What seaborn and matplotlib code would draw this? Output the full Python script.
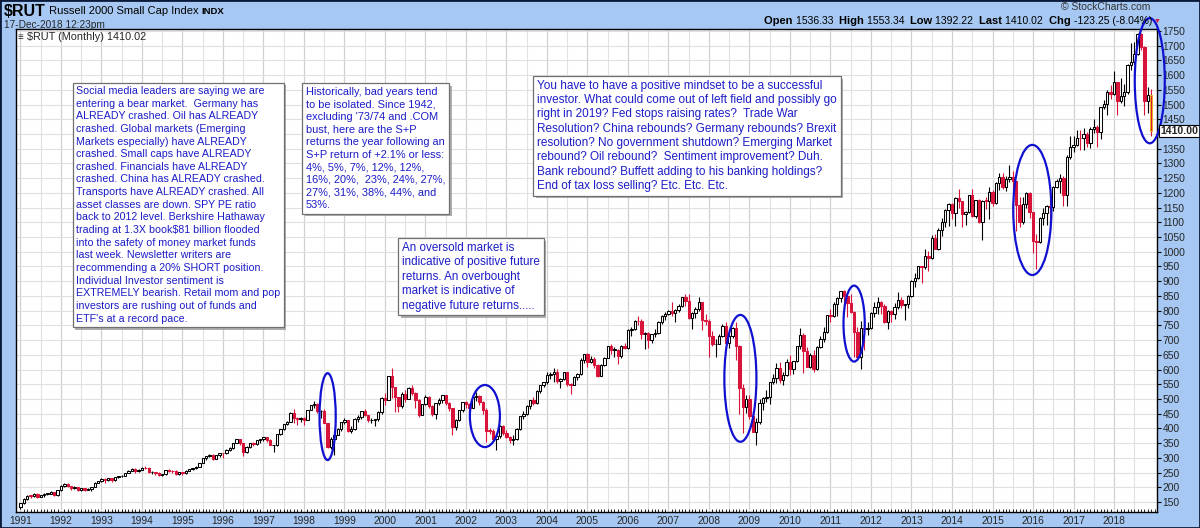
import numpy as np
import pandas as pd
import matplotlib.pyplot as plt
import matplotlib.patheffects as pe
import matplotlib.transforms as mtransforms
from matplotlib.patches import Ellipse, Rectangle
import seaborn as sns

# monthly Russell 2000 bars, Jan 1991 .. Dec 2018 (open = previous close)
first_open = 132.2
years = list(range(1991, 2019))
close = [
    145.2, 160.0, 171.0, 170.6, 177.9, 167.6, 173.0, 177.6, 178.7, 183.4, 174.9, 189.9,
    205.2, 211.3, 203.7, 197.0, 199.8, 190.2, 196.7, 190.6, 195.7, 200.6, 216.0, 221.0,
    229.2, 223.7, 230.4, 224.1, 233.7, 237.1, 239.5, 249.6, 256.6, 263.3, 254.9, 258.6,
    266.5, 265.5, 251.1, 252.6, 249.3, 240.3, 244.1, 257.3, 256.1, 255.0, 244.7, 250.4,
    246.9, 256.1, 260.8, 266.2, 270.5, 283.6, 299.7, 305.8, 311.1, 297.1, 309.1, 316.0,
    315.4, 325.5, 332.5, 350.2, 364.3, 349.4, 318.9, 337.4, 350.6, 345.6, 359.5, 362.6,
    369.9, 360.1, 343.0, 343.0, 381.0, 396.4, 414.5, 423.4, 453.8, 434.0, 431.2, 437.0,
    430.1, 462.1, 480.7, 483.1, 457.4, 457.4, 419.8, 338.0, 363.6, 379.2, 399.0, 422.0,
    427.2, 392.3, 397.6, 433.2, 439.6, 457.7, 445.1, 428.6, 428.7, 430.4, 456.3, 504.8,
    496.2, 577.7, 539.1, 506.3, 476.2, 517.2, 500.6, 538.6, 521.4, 497.7, 445.9, 483.5,
    508.3, 475.0, 450.5, 485.8, 497.6, 512.6, 484.8, 468.6, 404.9, 428.2, 461.8, 488.5,
    483.1, 470.2, 506.5, 510.7, 488.1, 463.0, 392.4, 391.4, 362.3, 373.9, 407.4, 383.1,
    372.2, 361.0, 364.5, 398.7, 441.0, 448.4, 476.0, 497.4, 487.7, 528.2, 546.5, 556.9,
    580.8, 585.6, 590.3, 559.8, 568.3, 591.5, 551.3, 548.9, 572.9, 583.8, 633.8, 651.6,
    624.0, 634.1, 615.1, 579.4, 616.7, 639.7, 679.8, 666.5, 667.8, 646.6, 679.8, 673.2,
    733.2, 736.9, 765.1, 764.5, 721.0, 724.7, 700.6, 720.5, 725.6, 763.0, 782.0, 787.7,
    800.3, 793.3, 800.7, 814.6, 847.2, 833.7, 776.1, 792.9, 805.5, 828.0, 767.8, 766.0,
    713.3, 686.2, 688.0, 714.8, 748.3, 689.7, 713.6, 739.5, 679.6, 537.5, 473.1, 499.5,
    443.5, 389.0, 422.8, 487.6, 501.6, 508.3, 556.7, 572.1, 604.3, 562.8, 579.7, 625.4,
    602.0, 628.6, 678.6, 716.6, 662.6, 609.5, 650.9, 602.1, 676.1, 703.4, 727.0, 783.7,
    781.3, 823.5, 843.6, 865.3, 848.3, 827.4, 797.0, 726.8, 644.2, 741.1, 737.4, 740.9,
    792.8, 810.9, 830.3, 816.9, 761.8, 798.5, 786.9, 812.1, 837.5, 818.7, 821.9, 849.4,
    902.1, 911.1, 951.5, 947.5, 984.1, 977.5, 1045.3, 1010.9, 1073.8, 1100.2, 1142.9, 1163.6,
    1130.9, 1183.0, 1173.0, 1126.9, 1134.5, 1193.0, 1120.1, 1174.4, 1101.7, 1173.5, 1173.2, 1204.7,
    1165.4, 1233.4, 1252.8, 1220.1, 1246.5, 1253.9, 1238.7, 1159.5, 1100.7, 1161.9, 1198.1, 1135.9,
    1035.4, 1033.9, 1114.0, 1130.8, 1154.8, 1151.9, 1219.9, 1239.9, 1251.7, 1191.4, 1322.3, 1357.1,
    1361.8, 1386.7, 1385.9, 1400.4, 1370.2, 1415.4, 1425.1, 1405.3, 1490.9, 1502.8, 1544.1, 1535.5,
    1575.0, 1512.5, 1529.4, 1541.9, 1633.6, 1643.1, 1670.8, 1740.8, 1696.6, 1511.8, 1533.3, 1410.0,
]
high = [
    147, 162, 175, 175, 180, 180, 174, 181, 182, 186, 185, 190,
    207, 215, 214, 205, 203, 201, 198, 197, 199, 202, 217, 222,
    231, 231, 232, 231, 235, 239, 241, 250, 258, 265, 264, 261,
    268, 271, 268, 255, 253, 251, 245, 258, 261, 259, 257, 251,
    253, 257, 262, 267, 272, 284, 300, 306, 314, 312, 310, 318,
    317, 329, 336, 352, 365, 365, 352, 339, 351, 353, 360, 365,
    372, 371, 364, 343.5, 381.5, 397, 415, 424, 454, 466, 439, 439,
    440, 463, 481, 491.4, 486, 461, 465, 420, 372, 380, 403, 423,
    436, 428, 408, 437, 447, 458, 466, 446, 437, 431, 460, 505,
    520, 578, 606, 541, 507, 522, 529, 541, 546, 525, 500, 484,
    512, 510, 480, 487, 502, 514, 514, 490, 470, 433, 463, 491,
    493, 485, 507, 522, 512, 493, 468, 400, 398, 385, 411, 410,
    396, 374, 379, 401, 443, 460, 481, 498, 508, 529, 548, 558,
    590, 593, 604, 602, 570, 593, 592, 553, 577, 588, 638, 654,
    655, 646, 644, 618, 618, 641, 681, 688, 678, 670, 682, 690,
    736, 745, 767, 781, 771, 727, 728, 722, 737, 765, 786, 797,
    802, 829, 805, 824, 848, 855, 856, 797, 813, 845, 830, 790,
    771, 730, 704, 719, 755, 763, 725, 744, 760, 682, 550, 515,
    514, 455, 436, 501, 506, 531, 558, 584, 622, 626, 592, 635,
    651, 630, 680, 741, 725, 676, 656, 665, 679, 713, 745, 785,
    807, 831, 845, 867, 869, 852, 858, 800, 745, 766, 751, 763,
    795, 831, 846, 832, 823, 801, 803, 825, 864, 848, 824, 853,
    904, 927, 953, 953, 1008, 1001, 1056, 1061, 1081, 1116, 1145, 1166,
    1166, 1186, 1212, 1174, 1137, 1194, 1213, 1175, 1179, 1175, 1185, 1221,
    1211, 1236, 1267, 1266, 1258, 1296, 1274, 1240, 1185, 1185, 1203, 1204,
    1136, 1061, 1117, 1149, 1160, 1188, 1223, 1248, 1264, 1257, 1327, 1392,
    1392, 1414, 1413, 1422, 1407, 1425, 1451, 1430, 1493, 1515, 1548, 1566,
    1615, 1577, 1590, 1570, 1637, 1708, 1712, 1742, 1742.5, 1698, 1560, 1553.34,
]
low = [
    125.3, 143, 158, 165, 168, 164, 167, 168, 174, 176, 171, 170,
    188, 201, 200, 190, 193, 186, 187, 187, 190, 188, 200, 213,
    219, 213, 221, 217, 222, 230, 234, 238, 248, 255, 249, 253,
    257, 262, 248, 244, 243, 237, 238, 243, 253, 250, 242, 243,
    243, 245, 254, 259, 263, 270, 283, 294, 302, 292, 296, 303,
    300, 313, 322, 330, 350, 343, 307, 318, 334, 340, 343, 350,
    356, 355, 342, 319, 341, 376, 393, 410, 423, 419, 413, 421,
    410, 429, 461, 470, 452, 436, 418, 335, 330, 310, 376, 390,
    415, 389, 383, 395, 421, 433, 442, 421, 417, 408, 426, 449,
    480, 495, 503, 454, 456, 470, 491, 499, 513, 470, 440, 444,
    478, 468, 442, 431, 479, 486, 478, 460, 378.9, 396, 425, 456,
    469, 456, 469, 494, 479, 448, 355, 380, 357, 327, 368, 376,
    368, 352, 345, 360, 395, 433, 445, 467, 481, 484, 519, 542,
    550, 568, 556, 554, 536, 563, 543, 517, 547, 564, 581, 622,
    607, 622, 605, 575, 578, 612, 638, 654, 641, 620, 640, 670,
    670, 713, 733, 752, 704, 671, 674, 690, 712, 720, 756, 768,
    784, 781, 760, 797, 811, 816, 770, 738, 776, 799, 735, 750,
    642, 680, 643, 686, 711, 686, 672, 706, 633, 449, 385, 451,
    431, 387, 343, 414, 464, 491, 483, 552, 555, 555, 548, 577,
    581, 584, 625, 671, 587, 607, 605, 590, 598, 672, 695, 725,
    760, 779, 782, 829, 817, 778, 793, 643, 639, 601, 667, 716,
    736, 780, 788, 789, 758, 737, 763, 772, 805, 810, 767, 809,
    847, 880, 906, 895, 940, 936, 975, 1008, 1007, 1053, 1083, 1089,
    1112, 1089, 1150, 1085, 1090, 1131, 1118, 1114, 1099, 1040, 1145, 1111,
    1154, 1161, 1209, 1214, 1208, 1236, 1210, 1072, 1083, 1096, 1150, 1114,
    996, 943, 1030, 1092, 1092, 1089, 1139, 1215, 1200, 1156, 1157, 1314,
    1340, 1359, 1344, 1345, 1356, 1352, 1405, 1356, 1383, 1484, 1465, 1518,
    1531, 1466, 1504, 1495, 1535, 1618, 1639, 1668, 1684, 1464, 1470, 1392.22,
]

notes = [
    "Social media leaders are saying we are\nentering a bear market.  Germany has\n"
    "ALREADY crashed. Oil has ALREADY\ncrashed. Global markets (Emerging\n"
    "Markets especially) have ALREADY\ncrashed. Small caps have ALREADY\n"
    "crashed. Financials have ALREADY\ncrashed. China has ALREADY crashed.\n"
    "Transports have ALREADY crashed. All\nasset classes are down. SPY PE ratio\n"
    "back to 2012 level. Berkshire Hathaway\ntrading at 1.3X book$81 billion flooded\n"
    "into the safety of money market funds\nlast week. Newsletter writers are\n"
    "recommending a 20% SHORT position.\nIndividual Investor sentiment is\n"
    "EXTREMELY bearish. Retail mom and pop\ninvestors are rushing out of funds and\n"
    "ETF's at a record pace.",
    "Historically, bad years tend\nto be isolated. Since 1942,\nexcluding '73/74 and .COM\n"
    "bust, here are the S+P\nreturns the year following an\nS+P return of +2.1% or less:\n"
    "4%, 5%, 7%, 12%, 12%,\n16%, 20%,  23%, 24%, 27%,\n27%, 31%, 38%, 44%, and\n53%.",
    "You have to have a positive mindset to be a successful\n"
    "investor. What could come out of left field and possibly go\n"
    "right in 2019? Fed stops raising rates?  Trade War\n"
    "Resolution? China rebounds? Germany rebounds? Brexit\n"
    "resolution? No government shutdown? Emerging Market\n"
    "rebound? Oil rebound?  Sentiment improvement? Duh.\n"
    "Bank rebound? Buffett adding to his banking holdings?\n"
    "End of tax loss selling? Etc. Etc. Etc.",
    "An oversold market is\nindicative of positive future\nreturns. An overbought\n"
    "market is indicative of\nnegative future returns.....",
]

df = pd.DataFrame({'close': close, 'high': high, 'low': low})
df['open'] = [first_open] + close[:-1]
df['i'] = np.arange(len(df))
df['up'] = df['close'] >= df['open']

sns.set_theme(style='white')
plt.rcParams['font.family'] = ['Liberation Sans', 'DejaVu Sans']

W, H = 1200, 528
BG = '#A6C8F2'
RED = '#D8143A'
BLUE = '#1C1CC8'


def px(x, y):
    return x / W, 1 - y / H


fig = plt.figure(figsize=(12, 5.28), dpi=100)
fig.patch.set_facecolor(BG)
ax = fig.add_axes([16 / W, 16 / H, 1141 / W, 483 / H])
ax.set_facecolor('white')

# grid
for k in range(len(years)):
    ax.axvline(12 * k, color='#d0d0d0', lw=0.9, zorder=0)
    ax.axvline(12 * k + 6, color='#e2e2e2', lw=0.8, zorder=0)
for v in range(150, 1800, 50):
    ax.axhline(v, color='#e0e0e0', lw=0.8, zorder=0)

# candles
edge = np.where(df['up'], 'black', RED)
face = np.where(df['up'], 'white', RED)
ax.vlines(df['i'], df['low'], df['high'], colors=edge, lw=0.8, zorder=3)
body_lo = df[['open', 'close']].min(axis=1)
body_h = (df['close'] - df['open']).abs().clip(lower=1.5)
bars = ax.bar(df['i'], body_h, bottom=body_lo, width=0.72, color=face,
              edgecolor=edge, linewidth=0.75, zorder=4)
bars[-1].set_edgecolor('#F0B020')

# blue circles around the sell-offs
circles = [(91, 440, 4.8, 295), (137.6, 442, 8.9, 211), (213.3, 570, 9.5, 431),
           (247.0, 756, 6.3, 258), (299.8, 1142, 11.3, 442), (334.6, 1581, 8.9, 425)]
for cx, cy, w, h in circles:
    ax.add_patch(Ellipse((cx, cy), w, h, fill=False, edgecolor='#1010D0', lw=1.6,
                         zorder=6, clip_on=False))

ax.set_xlim(-1.33, 336.74)
ax.set_ylim(116, 1756.7)
ax.set_xticks([12 * k for k in range(len(years))])
ax.set_xticklabels(years)
ax.set_xticks(range(0, 337), minor=True)
ax.tick_params(axis='x', which='major', length=0, pad=3, labelsize=7.4)
ax.tick_params(axis='x', which='minor', length=2, width=0.6, direction='in',
               color='black', bottom=True)
ax.yaxis.tick_right()
yticks = list(range(150, 1800, 50))
ax.set_yticks(yticks)
# the 1400 label sits under the last-price box
ax.set_yticklabels(['' if v == 1400 else str(v) for v in yticks])
ax.tick_params(axis='y', length=3, width=0.8, direction='out', pad=1,
               labelsize=7.4, right=True, color='black')
ax.grid(False)
for s in ax.spines.values():
    s.set_color('black')
    s.set_linewidth(1.0)

trans = mtransforms.blended_transform_factory(ax.transAxes, ax.transData)
ax.text(1.003, close[-1], f'{close[-1]:.2f}', transform=trans, fontsize=7.6,
        fontweight='bold', va='center', ha='left', zorder=8,
        bbox=dict(boxstyle='square,pad=0.12', facecolor='white',
                  edgecolor='black', lw=0.8))

# header
renderer = fig.canvas.get_renderer()


def chain(x, y, pieces):
    for s, size, weight in pieces:
        t = fig.text(*px(x, y), s, fontsize=size, fontweight=weight, va='center',
                     ha='left', color='black')
        x += t.get_window_extent(renderer).width
    return x


chain(4, 11, [('$RUT', 11.5, 'bold'), (' Russell 2000 Small Cap Index ', 8, 'normal'),
              ('INDX', 6.8, 'bold')])
fig.text(*px(4, 25), '17-Dec-2018 12:23pm', fontsize=7.3, va='center')
fig.text(*px(1150, 7), '\u00a9 StockCharts.com', fontsize=7.5, va='center',
         ha='right', color='#333333')
xe = chain(764, 21, [('Open ', 8, 'bold'), ('1536.33  ', 7.5, 'normal'),
                     ('High ', 8, 'bold'), ('1553.34  ', 7.5, 'normal'),
                     ('Low ', 8, 'bold'), ('1392.22  ', 7.5, 'normal'),
                     ('Last ', 8, 'bold'), ('1410.02  ', 7.5, 'normal'),
                     ('Chg ', 8, 'bold'), ('-123.25 (-8.04%)', 7.5, 'normal')])
fig.text(*px(xe + 2, 21), '\u25bc', fontsize=5, color=RED, va='center')
fig.text(*px(18, 37), '\u2261', fontsize=7, va='center', fontweight='bold')
fig.text(*px(27, 37), '$RUT (Monthly) 1410.02', fontsize=7.8, va='center')

# note boxes: (left, top) in pixels, font size, line spacing
spots = [(76, 86, 7.7, 1.33), (306, 87, 7.9, 1.32), (537, 80, 8.5, 1.25),
         (402, 242, 8.4, 1.27)]
for (x, y, size, ls), s in zip(spots, notes):
    t = fig.text(*px(x, y), s, fontsize=size, color=BLUE, ha='left', va='top',
                 linespacing=ls, zorder=10,
                 bbox=dict(boxstyle='square,pad=0.32', facecolor='white',
                           edgecolor='#707070', lw=0.9))
    t.get_bbox_patch().set_path_effects(
        [pe.withSimplePatchShadow(offset=(2, -2), shadow_rgbFace='#9a9a9a', alpha=0.8)])

fig.add_artist(Rectangle((0, 0), 1, 1, transform=fig.transFigure, fill=False,
                         edgecolor='#0a1a3a', lw=2))

fig.savefig('out.png', dpi=100, facecolor=BG)
